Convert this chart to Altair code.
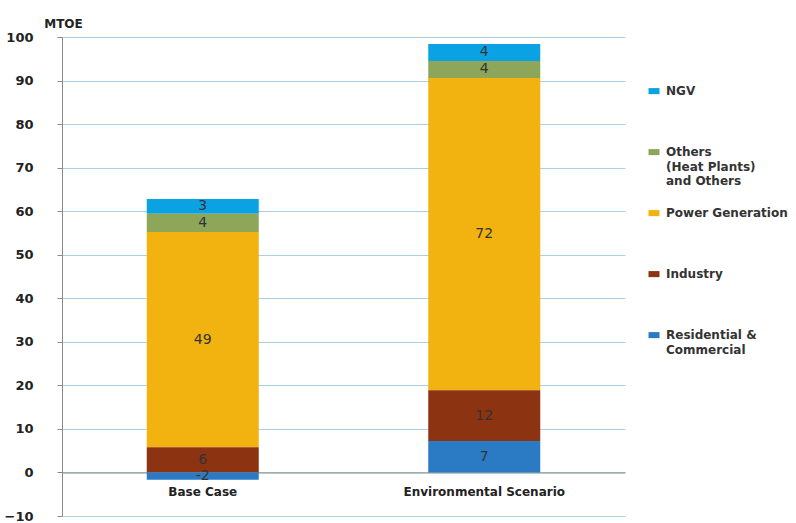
import altair as alt
import pandas as pd

categories = ["Base Case", "Environmental Scenario"]
sectors = ["NGV", "Others (Heat Plants) and Others", "Power Generation", "Industry", "Residential & Commercial"]
legend_lines = {
    "NGV": ["NGV", "", ""],
    "Others (Heat Plants) and Others": ["Others", "(Heat Plants)", " and Others"],
    "Power Generation": ["Power Generation", "", ""],
    "Industry": ["Industry", "", ""],
    "Residential & Commercial": ["Residential &", "Commercial", ""],
}
colors = ["#0aa2e3", "#8da65a", "#f2b20f", "#8c3311", "#2b7bc4"]
base_case = [3.4, 4.2, 49.4, 5.8, -1.7]
environmental = [3.9, 3.9, 71.7, 11.7, 7.2]
y_ticks = list(range(-10, 101, 10))

rows = []
for cat, vals in zip(categories, [base_case, environmental]):
    for i, (s, v) in enumerate(zip(sectors, vals)):
        rows.append({"category": cat, "sector": s, "value": v, "order": len(sectors) - i})
df = pd.DataFrame(rows)

label_map = "{" + ",".join(
    '"%s": [%s]' % (k, ",".join('"%s"' % l for l in v)) for k, v in legend_lines.items()
) + "}"

FONT = "DejaVu Sans"

base = alt.Chart(df).transform_stack(
    stack="value", as_=["y0", "y1"], groupby=["category"],
    sort=[alt.SortField("order", order="ascending")]
).transform_calculate(
    mid="(datum.y0 + datum.y1) / 2",
    label="replace(format(datum.value, '.0f'), '\u2212', '-')"
)

x_enc = alt.X(
    "category:N", sort=categories,
    scale=alt.Scale(paddingInner=0, paddingOuter=0),
    axis=alt.Axis(
        title=None, orient="bottom", offset=-43.5, ticks=False, labelAngle=0,
        domainColor="#8a8a8a", labelFontSize=12, labelFontWeight="bold",
        labelColor="#222", labelPadding=14, labelFont=FONT,
    ),
)

bars = base.mark_bar(size=112).encode(
    x=x_enc,
    y=alt.Y(
        "y0:Q",
        scale=alt.Scale(domain=[-10, 100], nice=False, zero=False),
        axis=alt.Axis(
            values=y_ticks, title="MTOE", titleAngle=0, titleX=1, titleY=-10,
            titleAlign="center", titleBaseline="alphabetic", titleFontSize=12,
            titleFontWeight="bold", titleFont=FONT, titleColor="#222",
            grid=True, gridColor="#a9d2e0", domainColor="#8a8a8a",
            tickColor="#8a8a8a", tickSize=5, labelPadding=24,
            labelFontSize=13, labelFontWeight="bold", labelFont=FONT, labelColor="#222",
        ),
    ),
    y2="y1:Q",
    color=alt.Color(
        "sector:N",
        scale=alt.Scale(domain=sectors, range=colors),
        legend=alt.Legend(
            title=None, orient="none", legendX=586, legendY=43,
            labelExpr=label_map + "[datum.label]",
            labelFontSize=12, labelFontWeight="bold", labelFont=FONT, labelColor="#333",
            labelBaseline="top",
            symbolType="M-1,0.38L1,0.38L1,1.48L-1,1.48Z", symbolSize=121,
            symbolStrokeWidth=0, rowPadding=15, labelOffset=6,
        ),
    ),
)

texts = base.mark_text(fontSize=14, color="#333", font=FONT).encode(
    x=alt.X("category:N", sort=categories),
    y=alt.Y("mid:Q"),
    text="label:N",
)

chart = alt.layer(bars, texts).properties(
    width=563, height=479,
    autosize=alt.AutoSizeParams(type="none"),
    padding={"left": 62, "top": 37, "right": 171, "bottom": 7},
).configure(
    view=alt.ViewConfig(stroke=None),
    style={"guide-label": {"lineHeight": 14.5}},
)

chart.save("out.html", embed_options={"renderer": "svg", "actions": False})
